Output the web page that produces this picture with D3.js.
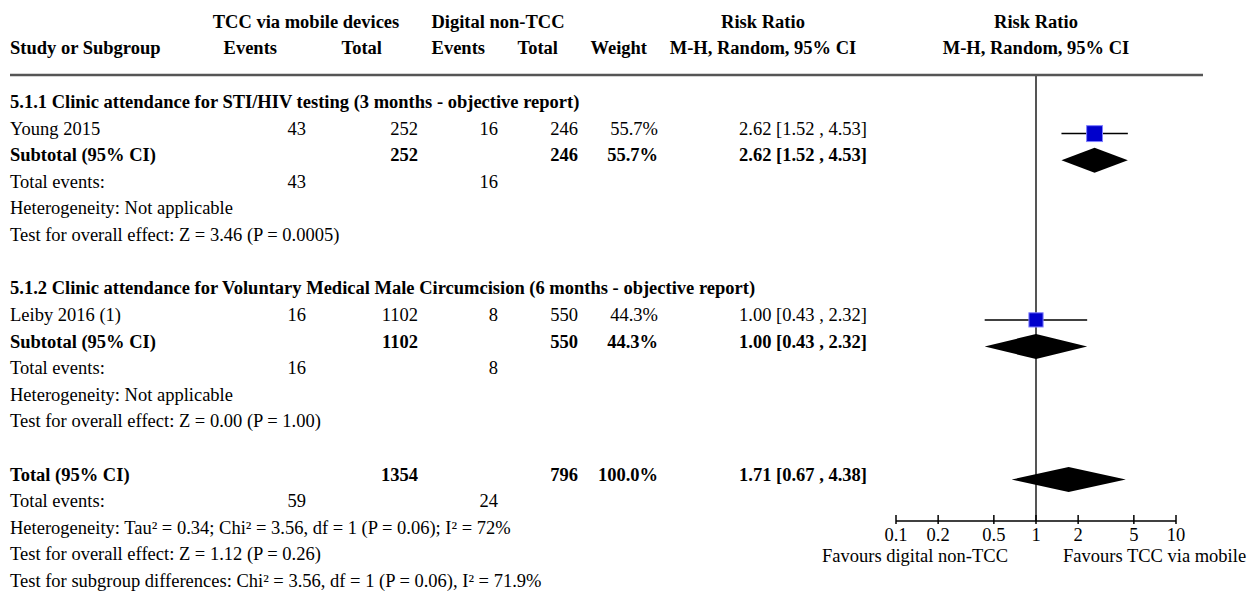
<!DOCTYPE html>
<html>
<head>
<meta charset="utf-8">
<script src="https://cdn.jsdelivr.net/npm/d3@7"></script>
<style>
  body { margin: 0; background: #fff; }
  text { font-family: "Liberation Serif", "Times New Roman", serif; font-size: 18.5px; fill: #000; }
  .b { font-weight: bold; }
</style>
</head>
<body>
<script>
// study level data
const studies = ["Young 2015", "Leiby 2016 (1)"];
const expEvents = [43, 16];
const expTotal = [252, 1102];
const ctlEvents = [16, 8];
const ctlTotal = [246, 550];
const weights = [55.7, 44.3];
const rr = [2.62, 1.00];
const rrLow = [1.52, 0.43];
const rrHigh = [4.53, 2.32];

// subgroups (one study each)
const subgroupTitles = [
  "5.1.1 Clinic attendance for STI/HIV testing (3 months - objective report)",
  "5.1.2 Clinic attendance for Voluntary Medical Male Circumcision (6 months - objective report)"
];
const subgroupHet = ["Heterogeneity: Not applicable", "Heterogeneity: Not applicable"];
const subgroupTest = ["Test for overall effect: Z = 3.46 (P = 0.0005)", "Test for overall effect: Z = 0.00 (P = 1.00)"];

// overall
const totalExp = 1354, totalCtl = 796, totalWeight = 100.0;
const totalRR = [1.71, 0.67, 4.38];
const totalExpEvents = 59, totalCtlEvents = 24;
const footer = [
  "Heterogeneity: Tau² = 0.34; Chi² = 3.56, df = 1 (P = 0.06); I² = 72%",
  "Test for overall effect: Z = 1.12 (P = 0.26)",
  "Test for subgroup differences: Chi² = 3.56, df = 1 (P = 0.06), I² = 71.9%"
];

const axisTicks = [0.1, 0.2, 0.5, 1, 2, 5, 10];
const favours = ["Favours digital non-TCC", "Favours TCC via mobile"];

let width = 1248, height = 592;
let svg = d3.select("body").append("svg")
  .attr("width", width)
  .attr("height", height);

// row positions
let rowY = d3.scaleLinear().domain([0, 18]).range([107, 586]);
let x = d3.scaleLog().domain([0.1, 10]).range([896, 1176]);

// column right edges
const col = { ev1: 306, tot1: 418, ev2: 498, tot2: 578, w: 658, ci: 867 };

function txt(xp, y, s, anchor, bold) {
  svg.append("text")
    .attr("x", xp).attr("y", y)
    .attr("text-anchor", anchor || "start")
    .attr("class", bold ? "b" : null)
    .text(s);
}
const fmtCI = (m, l, h) => `${m.toFixed(2)} [${l.toFixed(2)} , ${h.toFixed(2)}]`;

// headers
txt(306, 28, "TCC via mobile devices", "middle", true);
txt(498, 28, "Digital non-TCC", "middle", true);
txt(763, 28, "Risk Ratio", "middle", true);
txt(1036, 28, "Risk Ratio", "middle", true);
txt(10, 54, "Study or Subgroup", "start", true);
txt(277, 54, "Events", "end", true);
txt(382, 54, "Total", "end", true);
txt(485, 54, "Events", "end", true);
txt(558, 54, "Total", "end", true);
txt(647, 54, "Weight", "end", true);
txt(763, 54, "M-H, Random, 95% CI", "middle", true);
txt(1036, 54, "M-H, Random, 95% CI", "middle", true);

svg.append("line")
  .attr("x1", 10).attr("x2", 1203).attr("y1", 75).attr("y2", 75)
  .attr("stroke", "#555").attr("stroke-width", 2.5);

// null line
svg.append("line")
  .attr("x1", x(1)).attr("x2", x(1)).attr("y1", 75).attr("y2", 521)
  .attr("stroke", "#555").attr("stroke-width", 2);

function diamond(y, m, l, h) {
  svg.append("path")
    .attr("d", `M${x(l)},${y} L${x(m)},${y - 12.5} L${x(h)},${y} L${x(m)},${y + 12.5} Z`)
    .attr("fill", "#000");
}

studies.forEach((s, i) => {
  let base = i * 7;
  txt(10, rowY(base) + 1, subgroupTitles[i], "start", true);
  let y = rowY(base + 1);
  txt(10, y + 1, s);
  txt(col.ev1, y + 1, expEvents[i], "end");
  txt(col.tot1, y + 1, expTotal[i], "end");
  txt(col.ev2, y + 1, ctlEvents[i], "end");
  txt(col.tot2, y + 1, ctlTotal[i], "end");
  txt(col.w, y + 1, weights[i].toFixed(1) + "%", "end");
  txt(col.ci, y + 1, fmtCI(rr[i], rrLow[i], rrHigh[i]), "end");

  // CI line and square
  svg.append("line")
    .attr("x1", x(rrLow[i])).attr("x2", x(rrHigh[i]))
    .attr("y1", y).attr("y2", y)
    .attr("stroke", "#000").attr("stroke-width", 1.5);
  let side = 2.13 * Math.sqrt(weights[i]);
  svg.append("rect")
    .attr("x", x(rr[i]) - side / 2).attr("y", y - side / 2)
    .attr("width", side).attr("height", side)
    .attr("fill", "#0000cc").attr("stroke", "#7f7fff").attr("stroke-width", 1);

  // subtotal
  let ys = rowY(base + 2);
  txt(10, ys + 1, "Subtotal (95% CI)", "start", true);
  txt(col.tot1, ys + 1, expTotal[i], "end", true);
  txt(col.tot2, ys + 1, ctlTotal[i], "end", true);
  txt(col.w, ys + 1, weights[i].toFixed(1) + "%", "end", true);
  txt(col.ci, ys + 1, fmtCI(rr[i], rrLow[i], rrHigh[i]), "end", true);
  diamond(ys, rr[i], rrLow[i], rrHigh[i]);

  let ye = rowY(base + 3);
  txt(10, ye + 1, "Total events:");
  txt(col.ev1, ye + 1, expEvents[i], "end");
  txt(col.ev2, ye + 1, ctlEvents[i], "end");
  txt(10, rowY(base + 4) + 1, subgroupHet[i]);
  txt(10, rowY(base + 5) + 1, subgroupTest[i]);
});

// overall
let yt = rowY(14);
txt(10, yt + 1, "Total (95% CI)", "start", true);
txt(col.tot1, yt + 1, totalExp, "end", true);
txt(col.tot2, yt + 1, totalCtl, "end", true);
txt(col.w, yt + 1, totalWeight.toFixed(1) + "%", "end", true);
txt(col.ci, yt + 1, fmtCI(totalRR[0], totalRR[1], totalRR[2]), "end", true);
diamond(yt, totalRR[0], totalRR[1], totalRR[2]);

txt(10, rowY(15) + 1, "Total events:");
txt(col.ev1, rowY(15) + 1, totalExpEvents, "end");
txt(col.ev2, rowY(15) + 1, totalCtlEvents, "end");
footer.forEach((f, i) => txt(10, rowY(16 + i) + 1, f));

// axis
let axisY = 521;
svg.append("line")
  .attr("x1", x(0.1)).attr("x2", x(10)).attr("y1", axisY).attr("y2", axisY)
  .attr("stroke", "#000").attr("stroke-width", 1.5);
svg.selectAll(".tick")
  .data(axisTicks)
  .enter()
  .append("line")
  .attr("x1", d => x(d)).attr("x2", d => x(d))
  .attr("y1", axisY - 6).attr("y2", axisY + 3)
  .attr("stroke", "#000").attr("stroke-width", 1.5);
svg.selectAll(".ticklabel")
  .data(axisTicks)
  .enter()
  .append("text")
  .attr("x", d => x(d)).attr("y", 541)
  .attr("text-anchor", "middle")
  .text(d => d);
txt(1008, 562, favours[0], "end");
txt(1063, 562, favours[1], "start");
</script>
</body>
</html>
